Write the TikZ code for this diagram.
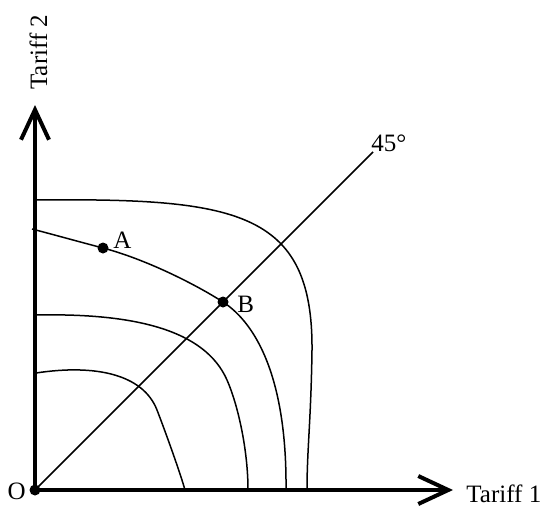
\documentclass[tikz,border=0pt]{standalone}
\usepackage{fontspec}
\setmainfont{Liberation Serif}
\usepackage{tikz}
\usetikzlibrary{arrows.meta, positioning, calc}

\begin{document}
\begin{tikzpicture}[x=0.5pt, y=0.5pt,
	every node/.style={font=\fontsize{12.5}{15}\selectfont},
	eje/.style={line width=2pt, -{Straight Barb[length=15pt, width=14pt]}},
	curva/.style={line width=0.75pt},
	punto/.style={circle, fill=black, inner sep=0pt, minimum size=5.5pt}]
	\useasboundingbox (-35,-15) rectangle (510,490);
	% ejes
	\node[punto] (O) at (0,0) {};
	\coordinate (ytip) at (0,385);
	\coordinate (xtip) at (418,0);
	\draw[eje] (O.center) -- (ytip);
	\draw[eje] (O.center) -- (xtip);
	\node[anchor=base west, inner sep=0pt, rotate=90] (t2) at (12,400) {Tariff 2};
	\node[anchor=base west, inner sep=0pt] (t1) at (431,-12) {Tariff 1};
	\node[anchor=east, inner sep=0pt] (lO) at (-9,-1) {O};
	% recta de 45 grados
	\coordinate (d45) at (338,338);
	\draw[curva] (O.center) -- (d45);
	\node[anchor=south west, inner sep=0pt] (l45) at ([xshift=-1pt]d45) {45°};
	% puntos A y B
	\node[punto] (A) at (68,242) {};
	\node[punto] (B) at (188,188) {};
	\node[anchor=base west, inner sep=0pt] (lA) at ([xshift=5pt]A.center) {A};
	\node[anchor=west, inner sep=0pt] (lB) at ([xshift=7pt, yshift=-1pt]B.center) {B};
	% curvas de nivel
	\draw[curva] (0,290) .. controls (200,292) and (278,280) .. (277,140)
		.. controls (276,70) and (272,40) .. (272,0);
	\draw[curva] (-3,261) .. controls (20,255) and (45,248) .. (A.center)
		.. controls (110,231) and (160,206) .. (B.center)
		.. controls (222,166) and (252,110) .. (251,0);
	\draw[curva] (1,175) .. controls (100,177) and (170,160) .. (192,110)
		.. controls (203,85) and (213,40) .. (213,0);
	\draw[curva] (1,117) .. controls (60,126) and (108,116) .. (122,80)
		.. controls (129,62) and (145,18) .. (150,0);
\end{tikzpicture}
\end{document}
